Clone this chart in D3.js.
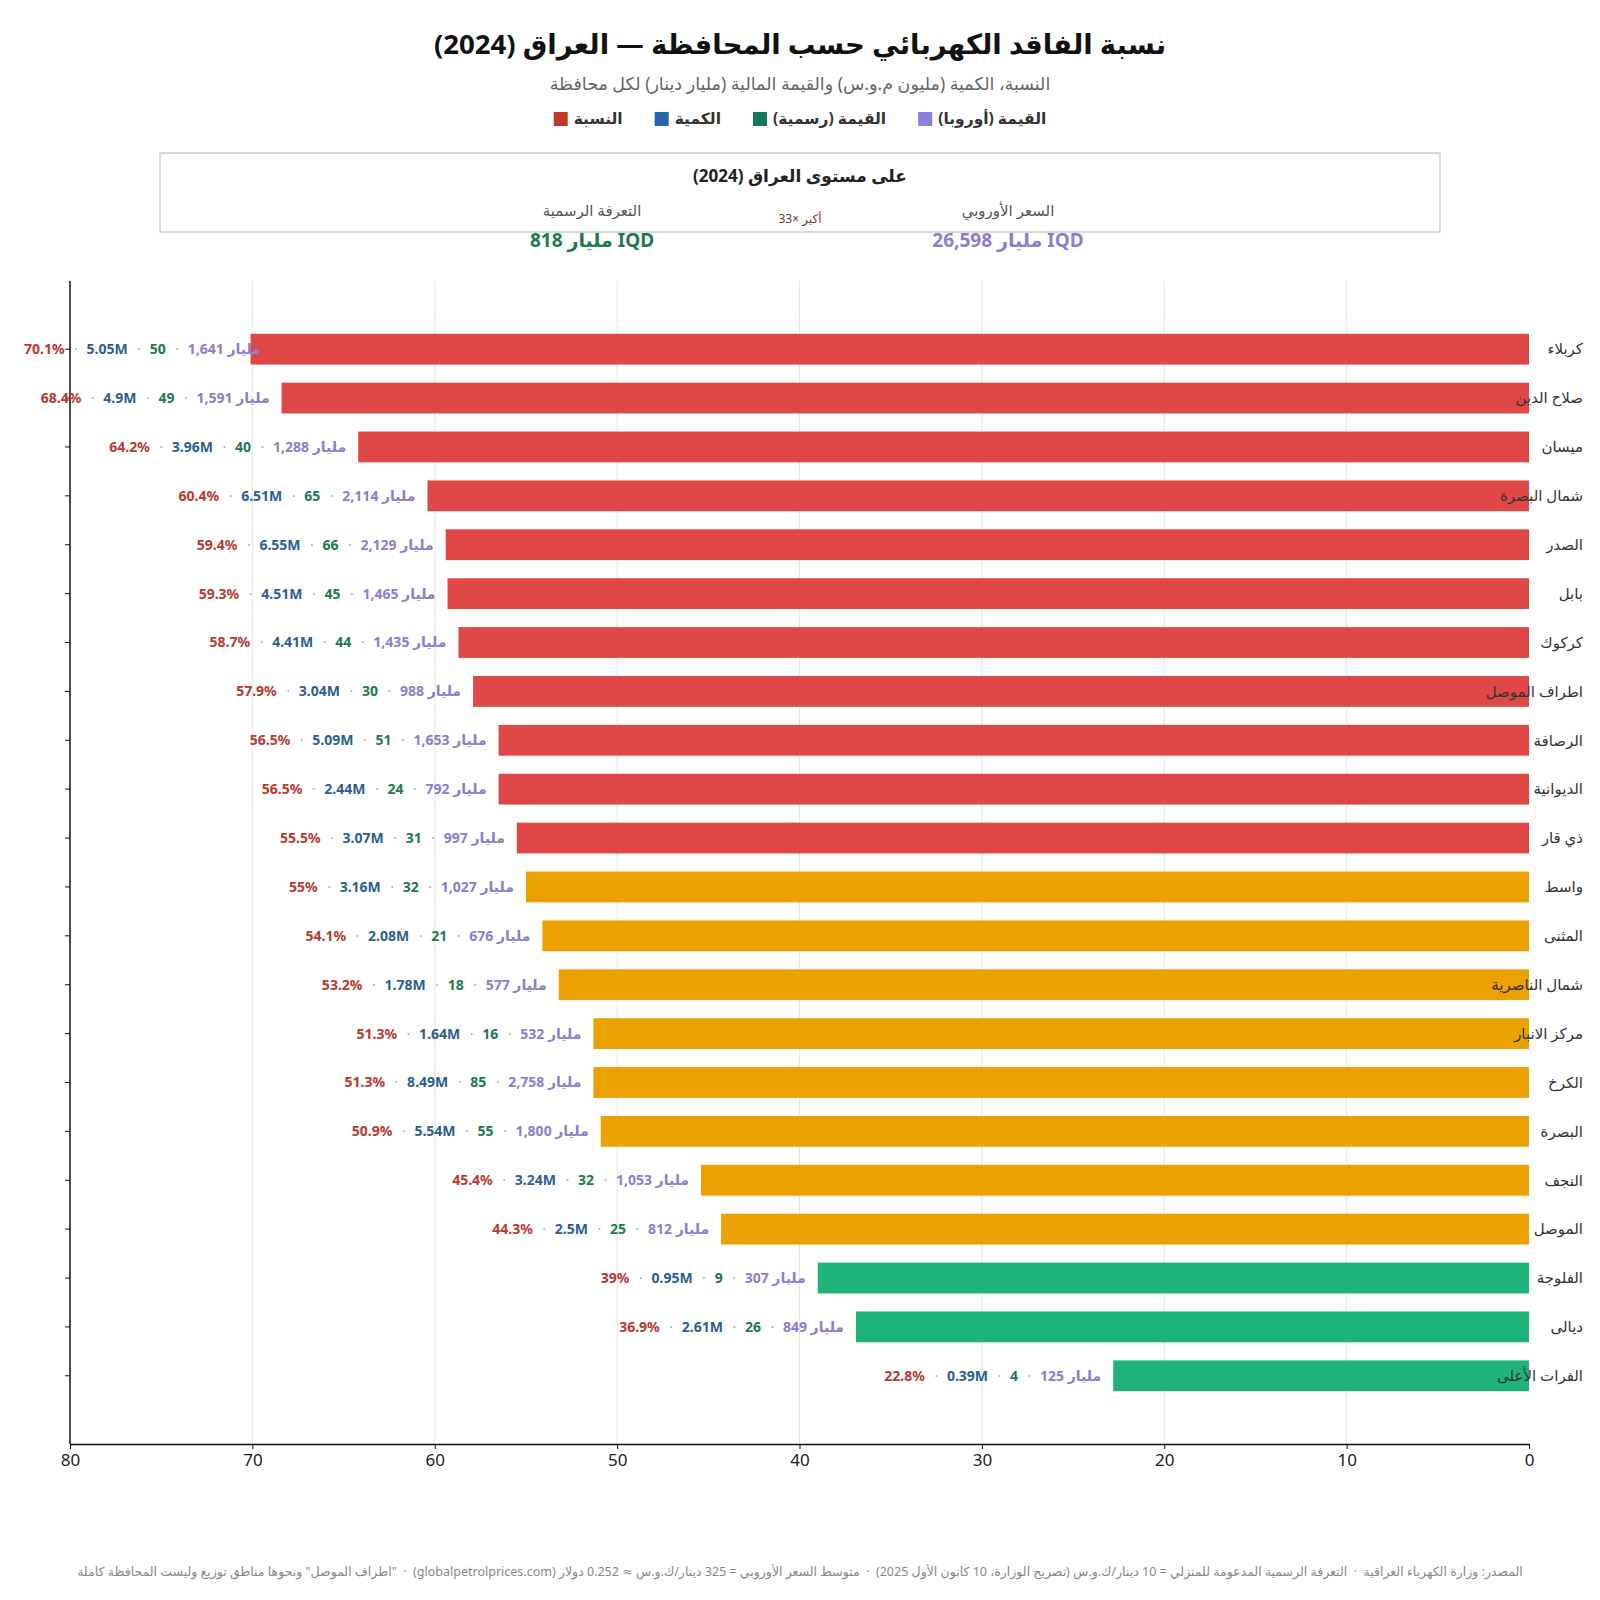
<!DOCTYPE html>
<html>
<head>
<meta charset="utf-8">
<script src="https://cdn.jsdelivr.net/npm/d3@7"></script>
<style>
  body { margin: 0; background: #fff; }
  text { font-family: "Noto Sans", "DejaVu Sans", sans-serif; }
</style>
</head>
<body>
<div id="chart"></div>
<script>
// المحافظات ومؤشراتها
var regions = ["كربلاء", "صلاح الدين", "ميسان", "شمال البصرة", "الصدر", "بابل", "كركوك", "اطراف الموصل", "الرصافة", "الديوانية", "ذي قار", "واسط", "المثنى", "شمال الناصرية", "مركز الانبار", "الكرخ", "البصرة", "النجف", "الموصل", "الفلوجة", "ديالى", "الفرات الأعلى"];
// نسبة الفاقد %
var lossPct = [70.1, 68.4, 64.2, 60.4, 59.4, 59.3, 58.7, 57.9, 56.5, 56.5, 55.5, 55, 54.1, 53.2, 51.3, 51.3, 50.9, 45.4, 44.3, 39, 36.9, 22.8];
// الكمية (مليون م.و.س)
var lossQty = [5.05, 4.9, 3.96, 6.51, 6.55, 4.51, 4.41, 3.04, 5.09, 2.44, 3.07, 3.16, 2.08, 1.78, 1.64, 8.49, 5.54, 3.24, 2.5, 0.95, 2.61, 0.39];
// القيمة بالتعرفة الرسمية (مليار دينار)
var valueOfficial = [50, 49, 40, 65, 66, 45, 44, 30, 51, 24, 31, 32, 21, 18, 16, 85, 55, 32, 25, 9, 26, 4];
// القيمة بالسعر الأوروبي (مليار دينار)
var valueEurope = [1641, 1591, 1288, 2114, 2129, 1465, 1435, 988, 1653, 792, 997, 1027, 676, 577, 532, 2758, 1800, 1053, 812, 307, 849, 125];
var xTicks = [80, 70, 60, 50, 40, 30, 20, 10, 0];

var legendItems = ["النسبة", "الكمية", "القيمة (رسمية)", "القيمة (أوروبا)"];
var legendColors = ["#c0392b", "#2b62a8", "#16785a", "#8c7fdb"];
var labelColors = ["#b83a30", "#2c5f94", "#1d7a50", "#8a7ed0"];

var totalOfficial = 818, totalEurope = 26598, ratio = 33;

var W = 1600, H = 1600;
var margin = {top: 281, right: 71, bottom: 156, left: 70};

var svg = d3.select("#chart").append("svg").attr("width", W).attr("height", H);

// العنوان
svg.append("text").attr("x", 800).attr("y", 44).attr("dy", "0.35em")
    .attr("text-anchor", "middle").attr("font-size", 27.5).attr("font-weight", "bold").attr("fill", "#111")
    .text("نسبة الفاقد الكهربائي حسب المحافظة — العراق (2024)");
svg.append("text").attr("x", 800).attr("y", 84).attr("dy", "0.35em")
    .attr("text-anchor", "middle").attr("font-size", 17.5).attr("fill", "#666")
    .text("النسبة، الكمية (مليون م.و.س) والقيمة المالية (مليار دينار) لكل محافظة");

// وسيلة الإيضاح
var lg = svg.append("g");
var lx = 0;
legendItems.forEach(function(name, i){
    var item = lg.append("g").attr("transform", "translate(" + lx + ",0)");
    item.append("rect").attr("x", 0).attr("y", -7).attr("width", 14).attr("height", 14).attr("fill", legendColors[i]);
    var t = item.append("text").attr("x", 20).attr("y", 0).attr("dy", "0.35em")
        .attr("font-size", 15.5).attr("font-weight", "bold").attr("fill", "#333").text(name);
    lx += 20 + t.node().getComputedTextLength() + 32;
});
lx -= 32;
lg.attr("transform", "translate(" + (800 - lx/2) + ",119)");

// صندوق الإجمالي
svg.append("rect").attr("x", 160).attr("y", 153).attr("width", 1280).attr("height", 79)
    .attr("fill", "none").attr("stroke", "#ccc").attr("stroke-width", 1.5);
svg.append("text").attr("x", 800).attr("y", 176).attr("dy", "0.35em")
    .attr("text-anchor", "middle").attr("font-size", 17).attr("font-weight", "bold").attr("fill", "#222")
    .text("على مستوى العراق (2024)");
svg.append("text").attr("x", 592).attr("y", 211).attr("dy", "0.35em")
    .attr("text-anchor", "middle").attr("font-size", 15).attr("fill", "#555").text("التعرفة الرسمية");
svg.append("text").attr("x", 1008).attr("y", 211).attr("dy", "0.35em")
    .attr("text-anchor", "middle").attr("font-size", 15).attr("fill", "#555").text("السعر الأوروبي");
svg.append("text").attr("x", 800).attr("y", 219).attr("dy", "0.35em")
    .attr("text-anchor", "middle").attr("font-size", 12).attr("fill", "#7a3535").text("أكبر ×" + ratio);
svg.append("text").attr("x", 592).attr("y", 240).attr("dy", "0.35em")
    .attr("text-anchor", "middle").attr("font-size", 19).attr("font-weight", "bold").attr("fill", "#1d7a50")
    .text(d3.format(",")(totalOfficial) + " مليار IQD");
svg.append("text").attr("x", 1008).attr("y", 240).attr("dy", "0.35em")
    .attr("text-anchor", "middle").attr("font-size", 19).attr("font-weight", "bold").attr("fill", "#8a7ed0")
    .text(d3.format(",")(totalEurope) + " مليار IQD");

// المقاييس
var x = d3.scaleLinear().domain([80, 0]).range([margin.left, W - margin.right]);
var y = d3.scaleBand().domain(regions).range([margin.top, H - margin.bottom])
    .paddingInner(0.37).paddingOuter(1.08);

// خطوط الشبكة
svg.append("g").selectAll("line")
    .data(xTicks.filter(function(d){ return d > 0 && d < 80; }))
    .enter().append("line")
    .attr("x1", function(d){ return x(d); }).attr("x2", function(d){ return x(d); })
    .attr("y1", margin.top).attr("y2", H - margin.bottom)
    .attr("stroke", "#e6e6e6").attr("stroke-width", 1);

function barColor(v){
    if(v > 55) return "#e04848";
    if(v >= 40) return "#eba200";
    return "#1eb37b";
}

// الأشرطة
svg.append("g").selectAll("rect")
    .data(regions)
    .enter().append("rect")
    .attr("x", function(d, i){ return x(lossPct[i]); })
    .attr("y", function(d){ return y(d); })
    .attr("width", function(d, i){ return x(0) - x(lossPct[i]); })
    .attr("height", y.bandwidth())
    .attr("fill", function(d, i){ return barColor(lossPct[i]); });

// المحاور
var xAxis = svg.append("g").attr("transform", "translate(0," + (H - margin.bottom) + ")")
    .call(d3.axisBottom(x).tickValues(xTicks).tickSize(5).tickSizeOuter(0));
xAxis.select(".domain").attr("stroke", "#111").attr("stroke-width", 1.5);
xAxis.selectAll(".tick line").attr("stroke", "#111");
xAxis.selectAll(".tick text").attr("font-size", 17).attr("fill", "#222").attr("dy", "0.85em")
    .style("font-family", "'Noto Sans', 'DejaVu Sans', sans-serif");

var yAxis = svg.append("g").attr("transform", "translate(" + margin.left + ",0)")
    .call(d3.axisLeft(y).tickSize(5).tickSizeOuter(0).tickFormat(""));
yAxis.select(".domain").attr("stroke", "#111").attr("stroke-width", 1.5)
    .attr("d", "M0," + margin.top + "V" + (H - margin.bottom));
yAxis.selectAll(".tick line").attr("stroke", "#111");

// أسماء المحافظات
svg.append("g").selectAll("text")
    .data(regions)
    .enter().append("text")
    .attr("x", 1583)
    .attr("y", function(d){ return y(d) + y.bandwidth()/2; })
    .attr("dy", "0.35em")
    .attr("text-anchor", "end")
    .attr("font-size", 15).attr("fill", "#333")
    .text(function(d){ return d; });

// تسميات القيم
regions.forEach(function(r, i){
    var parts = [
        {t: lossPct[i] + "%", c: labelColors[0]},
        {t: lossQty[i] + "M", c: labelColors[1]},
        {t: String(valueOfficial[i]), c: labelColors[2]},
        {t: d3.format(",")(valueEurope[i]) + " مليار", c: labelColors[3]}
    ];
    var g = svg.append("g");
    var cx = 0;
    for(var k = parts.length - 1; k >= 0; k--){
        var t = g.append("text").attr("x", cx).attr("y", 0).attr("dy", "0.35em")
            .attr("text-anchor", "end").attr("font-size", 14).attr("font-weight", "bold")
            .attr("fill", parts[k].c).text(parts[k].t);
        cx -= t.node().getComputedTextLength();
        if(k > 0){
            cx -= 8.75;
            g.append("text").attr("x", cx).attr("y", 0).attr("dy", "0.35em")
                .attr("text-anchor", "end").attr("font-size", 14).attr("fill", "#aaa").text("·");
            cx -= 13.25;
        }
    }
    var w = -cx;
    var xEnd = Math.max(x(lossPct[i]) - 12, 24 + w);
    g.attr("transform", "translate(" + xEnd + "," + (y(r) + y.bandwidth()/2) + ")");
});

// المصدر
var sep = " \u00a0·\u00a0 ";
svg.append("text").attr("x", 800).attr("y", 1572).attr("dy", "0.35em")
    .attr("text-anchor", "middle").attr("direction", "rtl")
    .attr("font-size", 12.5).attr("fill", "#888")
    .text("المصدر: وزارة الكهرباء العراقية" + sep + "التعرفة الرسمية المدعومة للمنزلي = 10 دينار/ك.و.س (تصريح الوزارة، 10 كانون الأول 2025)" + sep + "متوسط السعر الأوروبي = 325 دينار/ك.و.س ≈ 0.252 دولار (globalpetrolprices.com)" + sep + "\"اطراف الموصل\" ونحوها مناطق توزيع وليست المحافظة كاملة");
</script>
</body>
</html>
